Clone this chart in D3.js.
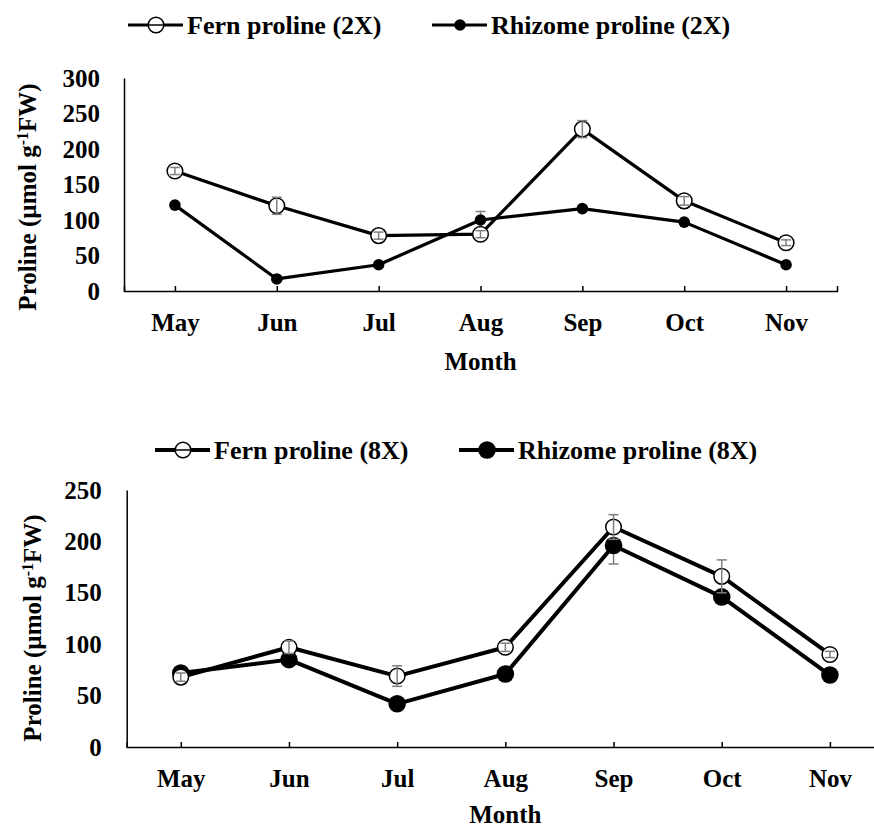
<!DOCTYPE html>
<html>
<head>
<meta charset="utf-8">
<script src="https://cdn.jsdelivr.net/npm/d3@7"></script>
<style>
  body { margin: 0; background: #fff; }
  svg { display: block; }
  text { font-family: "Liberation Serif", "Times New Roman", serif; font-weight: bold; fill: #000; }
</style>
</head>
<body>
<div id="chart"></div>
<script>
// data
const months = ["May", "Jun", "Jul", "Aug", "Sep", "Oct", "Nov"];

const fern2x = [169, 120, 78, 80, 228, 127, 68];
const fern2xErr = [5, 12, 5, 5, 12, 6, 4];
const rhizome2x = [121, 17, 37, 100, 116, 97, 37];
const rhizome2xErr = [3, 3, 3, 12, 3, 3, 3];

const fern8x = [68, 97, 69, 97, 214, 166, 90];
const fern8xErr = [4, 6, 10, 4, 12, 16, 3];
const rhizome8x = [72, 85, 42, 71, 196, 146, 70];
const rhizome8xErr = [3, 3, 3, 3, 18, 4, 3];

const ticks2x = [0, 50, 100, 150, 200, 250, 300];
const ticks8x = [0, 50, 100, 150, 200, 250];

const legend2x = ["Fern proline (2X)", "Rhizome proline (2X)"];
const legend8x = ["Fern proline (8X)", "Rhizome proline (8X)"];

const W = 874, H = 829;
const errColor = "#7f7f7f";

const svg = d3.select("#chart").append("svg")
  .attr("width", W)
  .attr("height", H);

function drawPanel(p) {
  const g = svg.append("g");

  const x = d3.scalePoint()
    .domain(months)
    .range([p.left, p.right])
    .padding(0.5);

  const y = d3.scaleLinear()
    .domain([0, d3.max(p.ticks)])
    .range([p.bottom, p.top]);

  // x axis, ticks point up into the plot
  const xAxis = g.append("g")
    .attr("transform", "translate(0," + p.bottom + ")")
    .call(d3.axisBottom(x).tickSizeInner(-5).tickSizeOuter(-5).tickPadding(22));
  xAxis.select(".domain").attr("stroke", "#000").attr("stroke-width", 1.5);
  xAxis.selectAll(".tick line").attr("stroke", "#000").attr("stroke-width", 1.5);
  xAxis.selectAll(".tick text").style("font-size", "25px");

  // y axis
  const yAxis = g.append("g")
    .attr("transform", "translate(" + p.left + ",0)")
    .call(d3.axisLeft(y).tickValues(p.ticks).tickSize(0).tickPadding(p.yPad));
  yAxis.select(".domain").attr("stroke", "#000").attr("stroke-width", 1.5);
  yAxis.selectAll(".tick text").style("font-size", "25px");

  // axis titles
  g.append("text")
    .attr("x", (p.left + p.right) / 2)
    .attr("y", p.bottom + p.monthGap)
    .attr("text-anchor", "middle")
    .style("font-size", "25px")
    .text("Month");

  const yt = g.append("text")
    .attr("transform", "translate(" + p.yTitleX + "," + p.yTitleY + ") rotate(-90)")
    .attr("text-anchor", "middle")
    .attr("dy", "0.35em")
    .style("font-size", "25px");
  yt.append("tspan").text("Proline (µmol g");
  yt.append("tspan").attr("baseline-shift", "super").style("font-size", "16px").text("-1");
  yt.append("tspan").text("FW)");

  const line = d3.line()
    .x((d, i) => x(months[i]))
    .y(d => y(d));

  // series lines
  [p.fern, p.rhiz].forEach(vals => {
    g.append("path")
      .datum(vals)
      .attr("d", line)
      .attr("fill", "none")
      .attr("stroke", "#000")
      .attr("stroke-width", p.lw)
      .attr("stroke-linejoin", "round");
  });

  function errorBars(vals, errs) {
    const eb = g.append("g")
      .attr("stroke", errColor)
      .attr("stroke-width", 1.5);
    vals.forEach((v, i) => {
      const cx = x(months[i]);
      eb.append("line")
        .attr("x1", cx).attr("x2", cx)
        .attr("y1", y(v - errs[i])).attr("y2", y(v + errs[i]));
      [v - errs[i], v + errs[i]].forEach(e => {
        eb.append("line")
          .attr("x1", cx - 5).attr("x2", cx + 5)
          .attr("y1", y(e)).attr("y2", y(e));
      });
    });
  }

  // rhizome: error bars under the filled dots
  errorBars(p.rhiz, p.rhizErr);
  g.append("g").selectAll("circle")
    .data(p.rhiz)
    .join("circle")
    .attr("cx", (d, i) => x(months[i]))
    .attr("cy", d => y(d))
    .attr("r", p.rhizR)
    .attr("fill", "#000");

  // fern: open circles, error bars visible inside
  g.append("g").selectAll("circle")
    .data(p.fern)
    .join("circle")
    .attr("cx", (d, i) => x(months[i]))
    .attr("cy", d => y(d))
    .attr("r", p.fernR)
    .attr("fill", "#fff")
    .attr("stroke", "#000")
    .attr("stroke-width", 1.5);
  errorBars(p.fern, p.fernErr);

  // legend
  const lg = g.append("g");
  p.legendItems.forEach((it, k) => {
    lg.append("line")
      .attr("x1", it.x).attr("x2", it.x + 55)
      .attr("y1", p.legendY).attr("y2", p.legendY)
      .attr("stroke", "#000").attr("stroke-width", p.lw);
    if (k === 0) {
      lg.append("circle")
        .attr("cx", it.x + 28).attr("cy", p.legendY)
        .attr("r", p.fernR)
        .attr("fill", "#fff").attr("stroke", "#000").attr("stroke-width", 1.5);
      lg.append("line")
        .attr("x1", it.x + 28 - p.fernR).attr("x2", it.x + 28 + p.fernR)
        .attr("y1", p.legendY).attr("y2", p.legendY)
        .attr("stroke", "#000").attr("stroke-width", 1.5);
    } else {
      lg.append("circle")
        .attr("cx", it.x + 28).attr("cy", p.legendY)
        .attr("r", p.rhizR)
        .attr("fill", "#000");
    }
    lg.append("text")
      .attr("x", it.x + 59)
      .attr("y", p.legendY)
      .attr("dy", "0.35em")
      .style("font-size", "26px")
      .text(p.legendLabels[k]);
  });
}

drawPanel({
  left: 124, right: 837, top: 78, bottom: 291,
  ticks: ticks2x, yPad: 24, monthGap: 79,
  fern: fern2x, fernErr: fern2xErr, rhiz: rhizome2x, rhizErr: rhizome2xErr,
  lw: 3.2, fernR: 7.8, rhizR: 5.8,
  yTitleX: 27, yTitleY: 197,
  legendY: 25, legendLabels: legend2x,
  legendItems: [{x: 128}, {x: 432}]
});

drawPanel({
  left: 126.7, right: 884, top: 490, bottom: 747,
  ticks: ticks8x, yPad: 25, monthGap: 76,
  fern: fern8x, fernErr: fern8xErr, rhiz: rhizome8x, rhizErr: rhizome8xErr,
  lw: 4, fernR: 7.8, rhizR: 8.8,
  yTitleX: 32, yTitleY: 628,
  legendY: 450, legendLabels: legend8x,
  legendItems: [{x: 155}, {x: 459}]
});
</script>
</body>
</html>
